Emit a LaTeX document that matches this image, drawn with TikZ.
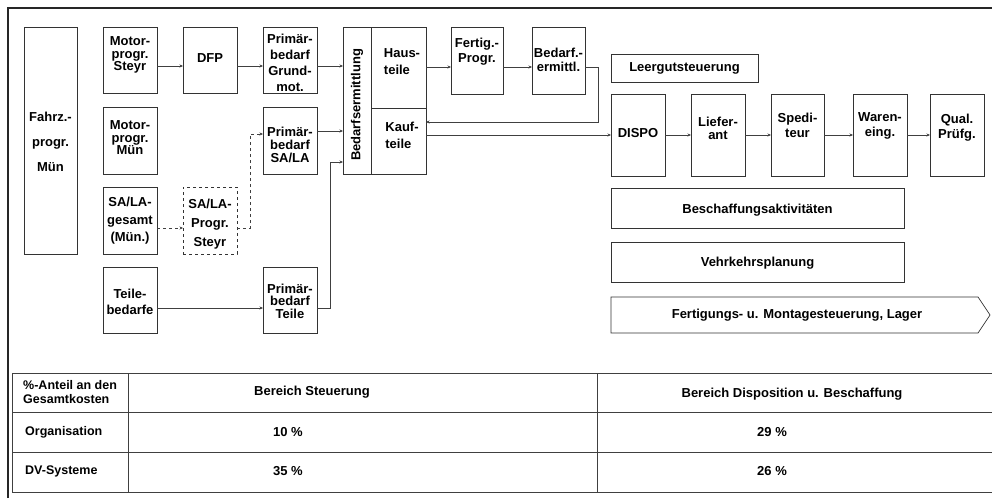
\documentclass[tikz,border=0pt]{standalone}
\usepackage{fontspec}
\setmainfont{Liberation Sans}
\usetikzlibrary{arrows.meta,calc}
\begin{document}
\begin{tikzpicture}[x=1pt,y=-1pt,
  box/.style={draw=black!80, line width=0.7pt, inner sep=0pt, outer sep=0pt},
  txt/.style={inner sep=0pt, align=center, font=\bfseries\fontsize{13}{#1}\selectfont},
  txt/.default=13,
  ttxt/.style={inner sep=0pt, align=left, anchor=west, font=\bfseries\fontsize{12.5}{14}\selectfont},
  ln/.style={draw=black!75, line width=0.6pt},
  arr/.style={ln, -{Stealth[length=3.5pt,width=3pt]}},
  tl/.style={draw=black!75, line width=0.7pt},
]
\useasboundingbox (0,0) rectangle (992,498);
% frame
\draw[line width=1.6pt, black!85] (8,498) -- (8,8) -- (992,8);

% left column boxes
\node[box, minimum width=53, minimum height=227] (fahrz) at (50.5,140.5) {};
\node[txt=25] (fahrz-t) at (50.5,142) {Fahrz.-\\progr.\\Mün};

\node[box, minimum width=54, minimum height=66] (ms) at (130,60) {};
\node[txt=12.5] (ms-t) at (130,55) {Motor-\\progr.\\Steyr};
\node[box, minimum width=54, minimum height=66] (dfp) at (210,60) {};
\node[txt] (dfp-t) at (210,58) {DFP};
\node[box, minimum width=54, minimum height=66] (pg) at (290,60) {};
\node[txt=16] (pg-t) at (290,63) {Primär-\\bedarf\\Grund-\\mot.};

\node[box, minimum width=54, minimum height=67] (mm) at (130,140.5) {};
\node[txt=12.5] (mm-t) at (130,138) {Motor-\\progr.\\Mün};
\node[box, minimum width=54, minimum height=67] (ps) at (290,140.5) {};
\node[txt=13] (ps-t) at (290,145) {Primär-\\bedarf\\SA/LA};

\node[box, minimum width=54, minimum height=67] (sg) at (130,220.5) {};
\node[txt=17.5] (sg-t) at (130,221) {SA/LA-\\gesamt\\(Mün.)};
\node[box, dashed, minimum width=54, minimum height=67] (sp) at (210,220.5) {};
\node[txt=19] (sp-t) at (210,224) {SA/LA-\\Progr.\\Steyr};

\node[box, minimum width=54, minimum height=66] (tb) at (130,300) {};
\node[txt=16.5] (tb-t) at (130,302) {Teile-\\bedarfe};
\node[box, minimum width=54, minimum height=66] (pt) at (290,300) {};
\node[txt=12.5] (pt-t) at (290,301) {Primär-\\bedarf\\Teile};

% Bedarfsermittlung block
\node[box, minimum width=28, minimum height=147] (be) at (357,100.5) {};
\node[txt, rotate=90] (be-t) at (357,105) {Bedarfsermittlung};
\node[box, minimum width=55, minimum height=81] (ht) at (398.5,67.5) {};
\node[txt=17, align=left] (ht-t) at (402,61.5) {Haus-\\teile};
\node[box, minimum width=55, minimum height=66] (kt) at (398.5,141) {};
\node[txt=17, align=left] (kt-t) at (402,135.5) {Kauf-\\teile};

\node[box, minimum width=52, minimum height=67] (fp) at (477,60.5) {};
\node[txt=15] (fp-t) at (477,52) {Fertig.-\\Progr.};
\node[box, minimum width=53, minimum height=67] (bm) at (558.5,60.5) {};
\node[txt=14] (bm-t) at (558.5,60) {Bedarf.-\\ermittl.};

% right part
\node[box, minimum width=147, minimum height=28] (lg) at (684.5,68) {};
\node[txt] (lg-t) at (684.5,68) {Leergutsteuerung};

\node[box, minimum width=54, minimum height=82] (dispo) at (638,135) {};
\node[txt] (dispo-t) at (638,133) {DISPO};
\node[box, minimum width=54, minimum height=82] (lief) at (718,135) {};
\node[txt=13] (lief-t) at (718,128.5) {Liefer-\\ant};
\node[box, minimum width=53, minimum height=82] (sped) at (797.5,135) {};
\node[txt=15] (sped-t) at (797.5,125.5) {Spedi-\\teur};
\node[box, minimum width=54, minimum height=82] (waren) at (880,135) {};
\node[txt=15] (waren-t) at (880,125.5) {Waren-\\eing.};
\node[box, minimum width=54, minimum height=82] (qual) at (957,135) {};
\node[txt=15] (qual-t) at (957,127.5) {Qual.\\Prüfg.};

\node[box, minimum width=293, minimum height=40] (ba) at (757.5,208) {};
\node[txt] (ba-t) at (757.5,210) {Beschaffungsaktivitäten};
\node[box, minimum width=293, minimum height=40] (vp) at (757.5,262) {};
\node[txt] (vp-t) at (757.5,263) {Vehrkehrsplanung};

\draw[draw=black!80, line width=0.7pt] (611,297) -- (978,297) -- (990,315) -- (978,333) -- (611,333) -- cycle;
\node[txt] (fm-t) at (797,315) {Fertigungs- u. Montagesteuerung, Lager};

% connectors
\draw[arr] ([yshift=-6pt]ms.east) -- ([yshift=-6pt]dfp.west);
\draw[arr] ([yshift=-6pt]dfp.east) -- ([yshift=-6pt]pg.west);
\draw[arr] ([yshift=-6pt]pg.east) -- ([yshift=-6pt]pg.east -| be.west);
\draw[arr] ([yshift=9.5pt]ps.east) -- ([yshift=9.5pt]ps.east -| be.west);
\draw[arr, dashed] ([yshift=-7.5pt]sg.east) -- ([yshift=-7.5pt]sp.west);
\draw[arr, dashed] ([yshift=-7.5pt]sp.east) -- ++(13,0) |- ([yshift=6.5pt]ps.west);
\draw[arr] ([yshift=-8pt]tb.east) -- ([yshift=-8pt]pt.west);
\draw[arr] ([yshift=-8pt]pt.east) -- ++(13,0) |- ([yshift=-61.5pt]be.west);
\draw[arr] ([yshift=0.5pt]ht.east) -- ([yshift=0.5pt]ht.east -| fp.west);
\draw[arr] ([yshift=-6.5pt]fp.east) -- ([yshift=-6.5pt]bm.west);
\draw[arr] ([yshift=-6.5pt]bm.east) -- ++(13,0) |- ([yshift=19pt]kt.east);
\draw[arr] (kt.east |- dispo.west) -- (dispo.west);
\draw[arr] (dispo.east) -- (lief.west);
\draw[arr] (lief.east) -- (sped.west);
\draw[arr] (sped.east) -- (waren.west);
\draw[arr] (waren.east) -- (qual.west);

% table
\draw[tl] (12,373) -- (992,373);
\draw[tl] (12,412) -- (992,412);
\draw[tl] (12,452) -- (992,452);
\draw[tl] (12,492) -- (992,492);
\draw[tl] (12,373) -- (12,492);
\draw[tl] (128,373) -- (128,492);
\draw[tl] (597,373) -- (597,492);

\node[ttxt] (th1) at (23,392) {\%-Anteil an den\\Gesamtkosten};
\node[txt] (th2) at (312,392) {Bereich Steuerung};
\node[txt] (th3) at (792,394) {Bereich Disposition u. Beschaffung};
\node[ttxt] (r1) at (25,432) {Organisation};
\node[txt] (r1a) at (288,432) {10 \%};
\node[txt] (r1b) at (772,432) {29 \%};
\node[ttxt] (r2) at (25,471) {DV-Systeme};
\node[txt] (r2a) at (288,471) {35 \%};
\node[txt] (r2b) at (772,471) {26 \%};
\end{tikzpicture}
\end{document}
